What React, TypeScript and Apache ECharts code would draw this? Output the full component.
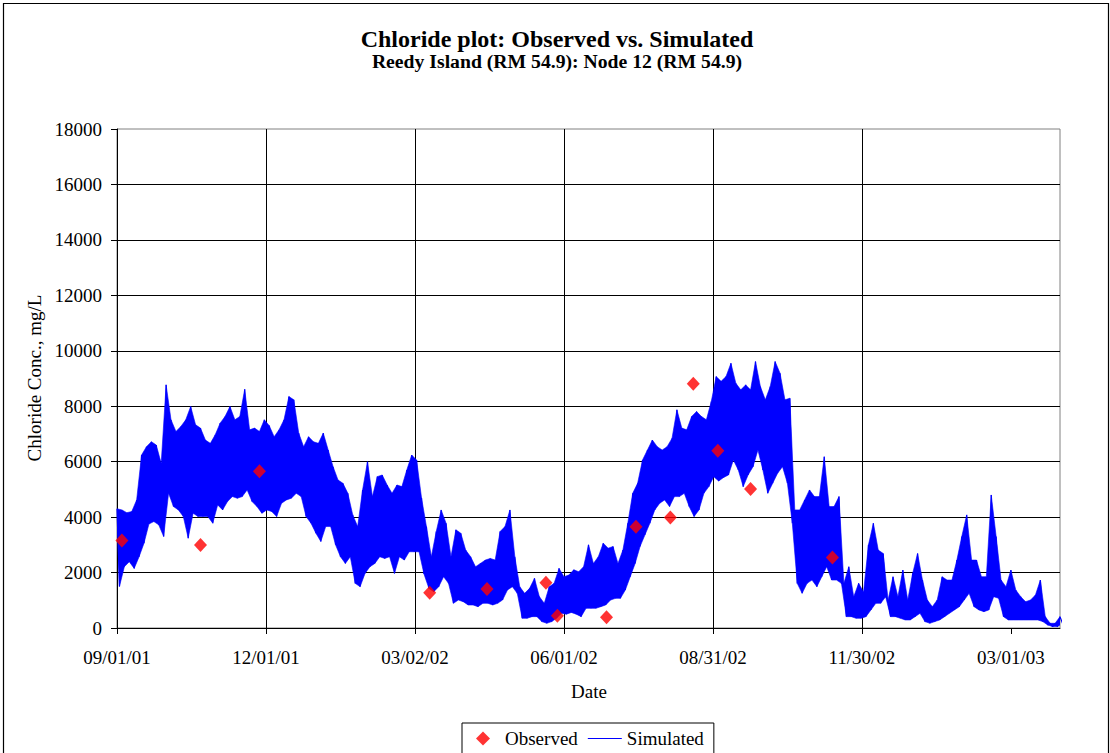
import React, { useEffect, useRef } from "react";
import * as echarts from "echarts";

// ---- Data ----
const START_UTC = Date.UTC(2001, 8, 1); // 09/01/01
const DAY_MS = 86400000;
const X_MAX_DAYS = 576;
const X_TICK_DAYS = 91;
const X_TICK_COUNT = 7;
const Y_MIN = 0;
const Y_MAX = 18000;
const Y_INTERVAL = 2000;

// Simulated chloride, read as tidal high/low envelope every 3 days (mg/L)
const SIM_STEP_DAYS = 3;
const SIM_HIGH = [
  4300, 4260, 4160, 4200, 4620, 6240, 6540, 6720, 6600, 5940,
  8770, 7510, 7090, 7270, 7510, 7990, 7330, 7210, 6780, 6660,
  6970, 7390, 7630, 7990, 7510, 7630, 8610, 7150, 7210, 7090,
  7510, 7300, 6900, 7150, 7510, 8350, 8230, 7030, 6540, 6900,
  6720, 6660, 7030, 6420, 5820, 5340, 5220, 4860, 4080, 3660,
  4980, 6000, 4740, 5460, 5520, 5160, 4860, 5160, 5100, 5700,
  6240, 6060, 4700, 3660, 2570, 3480, 4260, 3780, 2570, 3540,
  3420, 2810, 2570, 2210, 2330, 2450, 2510, 2450, 3480, 3660,
  4260, 2570, 1490, 1250, 1430, 1790, 1130, 890, 1490, 1610,
  2150, 1850, 1910, 2100, 2030, 2210, 3000, 2330, 2570, 3060,
  2880, 2940, 2330, 2810, 3780, 4860, 5220, 6060, 6420, 6780,
  6540, 6420, 6540, 6840, 7870, 7210, 7150, 7630, 7810, 7630,
  7510, 8170, 9070, 8900, 9070, 9550, 8830, 8590, 8770, 8590,
  9610, 8710, 8230, 8710, 9610, 9190, 8230, 8290, 4260, 4260,
  4620, 4980, 4740, 4740, 6180, 4380, 4380, 4740, 1610, 2210,
  1130, 1610, 1300, 3000, 3780, 2810, 2690, 1010, 1850, 1130,
  2090, 1010, 1970, 2690, 1730, 1010, 770, 1010, 1850, 1730,
  1730, 2450, 3300, 4080, 2450, 2450, 1850, 1850, 4800, 3300,
  1730, 1490, 2090, 1370, 1130, 950, 1010, 1190, 1730, 410,
  170, 170, 410,
];
const SIM_LOW = [
  1500, 2210, 2390, 2150, 2570, 3060, 3750, 3840, 3720, 3300,
  4860, 4380, 4260, 4020, 3240, 4140, 4020, 4020, 4020, 3780,
  4440, 4260, 4560, 4740, 4680, 4740, 4980, 4560, 4380, 4140,
  4260, 4200, 4020, 4500, 4620, 4680, 4860, 4740, 4020, 3780,
  3420, 3120, 3660, 3660, 3000, 2570, 2330, 2570, 1610, 1490,
  1970, 2210, 2330, 2570, 2510, 2570, 1970, 2570, 2450, 2750,
  2750, 2750, 1950, 1430, 1310, 1490, 1850, 1610, 890, 1010,
  950, 830, 830, 770, 890, 890, 830, 890, 1010, 1370,
  1490, 1250, 350, 350, 410, 410, 230, 170, 230, 350,
  530, 500, 560, 500, 410, 710, 710, 710, 770, 830,
  1010, 1070, 1070, 1370, 1850, 2330, 2940, 3360, 3780, 4260,
  4500, 4620, 4380, 4740, 4740, 4860, 4380, 4020, 4260, 4860,
  5100, 5460, 5300, 5430, 5520, 6060, 5700, 5100, 5520, 5820,
  6420, 5700, 4860, 5220, 5580, 5820, 5220, 3780, 1610, 1250,
  1610, 1730, 1490, 1850, 2210, 1730, 1730, 1610, 410, 410,
  350, 350, 410, 650, 890, 890, 1130, 410, 410, 350,
  290, 290, 410, 530, 230, 170, 230, 290, 410, 530,
  650, 770, 1010, 1250, 770, 650, 590, 650, 1130, 1070,
  410, 290, 290, 290, 290, 290, 290, 290, 230, 110,
  50, 50, 170,
];

// Observed samples
const OBS_DATES = [
  "2001-09-04", "2001-10-22", "2001-11-27", "2002-03-11", "2002-04-15",
  "2002-05-21", "2002-05-28", "2002-06-27", "2002-07-15", "2002-08-05",
  "2002-08-19", "2002-09-03", "2002-09-23", "2002-11-12",
];
const OBS_VALUES = [
  3160, 2990, 5650, 1270, 1410,
  1630, 440, 390, 3650, 3990,
  8810, 6390, 5010, 2540,
];

const TITLE = "Chloride plot: Observed vs. Simulated";
const SUBTITLE = "Reedy Island (RM 54.9): Node 12 (RM 54.9)";
const Y_NAME = "Chloride Conc., mg/L";
const X_NAME = "Date";

const FONT = '"Liberation Serif", "Times New Roman", serif';
const BLUE = "#0000FF";

function dayOffset(iso: string): number {
  const [y, m, d] = iso.split("-").map(Number);
  return Math.round((Date.UTC(y, m - 1, d) - START_UTC) / DAY_MS);
}
function pad2(n: number): string {
  return n < 10 ? "0" + n : "" + n;
}
function fmtDate(days: number): string {
  const dt = new Date(START_UTC + Math.round(days) * DAY_MS);
  return `${pad2(dt.getUTCMonth() + 1)}/${pad2(dt.getUTCDate())}/${pad2(dt.getUTCFullYear() % 100)}`;
}

export default function App() {
  const ref = useRef<HTMLDivElement>(null);

  useEffect(() => {
    if (!ref.current) return;
    const chart = echarts.init(ref.current, null, { renderer: "svg" });

    // tidal zig-zag: high at sample day, low half a step later
    const simData: number[][] = [];
    SIM_HIGH.forEach((h, i) => {
      simData.push([i * SIM_STEP_DAYS, h]);
      simData.push([i * SIM_STEP_DAYS + SIM_STEP_DAYS / 2, SIM_LOW[i]]);
    });

    const obsData = OBS_DATES.map((d, i) => [dayOffset(d), OBS_VALUES[i]]);
    const xTicks = Array.from({ length: X_TICK_COUNT }, (_, i) => i * X_TICK_DAYS);

    chart.setOption({
      animation: false,
      backgroundColor: "#ffffff",
      textStyle: { fontFamily: FONT },
      grid: {
        left: 117,
        top: 129,
        right: 50,
        bottom: 125,
        show: true,
        borderColor: "#808080",
        borderWidth: 1,
        backgroundColor: "transparent",
      },
      xAxis: {
        type: "value",
        min: 0,
        max: X_MAX_DAYS,
        interval: X_TICK_DAYS,
        axisLine: { show: true, onZero: false, lineStyle: { color: "#000", width: 1 } },
        axisTick: { show: true, inside: false, length: 6, lineStyle: { color: "#000" }, customValues: xTicks },
        axisLabel: {
          margin: 20,
          fontSize: 19,
          color: "#000",
          fontFamily: FONT,
          customValues: xTicks,
          formatter: (v: number) => fmtDate(v),
        },
        splitLine: { show: true, showMaxLine: false, lineStyle: { color: "#000", width: 1 } },
      },
      yAxis: {
        type: "value",
        min: Y_MIN,
        max: Y_MAX,
        interval: Y_INTERVAL,
        axisLine: { show: true, lineStyle: { color: "#000", width: 1 } },
        axisTick: { show: true, inside: false, length: 6, lineStyle: { color: "#000" } },
        axisLabel: {
          margin: 15,
          fontSize: 19,
          color: "#000",
          fontFamily: FONT,
          formatter: (v: number) => String(Math.round(v)),
        },
        splitLine: { show: true, showMaxLine: false, lineStyle: { color: "#000", width: 1 } },
      },
      legend: {
        left: 462,
        top: 723,
        orient: "horizontal",
        borderColor: "#000",
        borderWidth: 1,
        padding: [6, 10, 8, 14],
        itemGap: 10,
        itemWidth: 34,
        itemHeight: 14,
        symbolKeepAspect: true,
        textStyle: { fontSize: 19, color: "#000", fontFamily: FONT },
        data: [
          { name: "Observed", icon: "path://M7,0 L14,7 L7,14 L0,7 Z" },
          { name: "Simulated", icon: "path://M0,0 L34,0 L34,1.2 L0,1.2 Z" },
        ],
      },
      graphic: [
        {
          type: "rect",
          shape: { x: 3.5, y: 3.5, width: 1105, height: 800 },
          style: { fill: "none", stroke: "#000", lineWidth: 1.2 },
          silent: true,
        },
        {
          type: "text",
          x: 557,
          y: 39,
          style: { text: TITLE, align: "center", verticalAlign: "middle", fontSize: 24, fontWeight: "bold", fontFamily: FONT, fill: "#000" },
        },
        {
          type: "text",
          x: 557,
          y: 61,
          style: { text: SUBTITLE, align: "center", verticalAlign: "middle", fontSize: 19.7, fontWeight: "bold", fontFamily: FONT, fill: "#000" },
        },
        {
          type: "text",
          x: 34,
          y: 378,
          rotation: Math.PI / 2,
          style: { text: Y_NAME, align: "center", verticalAlign: "middle", fontSize: 19, fontFamily: FONT, fill: "#000" },
        },
        {
          type: "text",
          x: 589,
          y: 691,
          style: { text: X_NAME, align: "center", verticalAlign: "middle", fontSize: 19, fontFamily: FONT, fill: "#000" },
        },
      ],
      series: [
        {
          // dense tidal trace drawn as the filled high/low envelope
          name: "SimulatedEnvelope",
          type: "custom",
          silent: true,
          clip: true,
          z: 1,
          data: [[0, 0]],
          renderItem: (_params: any, api: any) => {
            const top = SIM_HIGH.map((h, i) => api.coord([i * SIM_STEP_DAYS, h]));
            const bottom = SIM_LOW.map((l, i) => api.coord([i * SIM_STEP_DAYS + SIM_STEP_DAYS / 2, l])).reverse();
            return {
              type: "polygon",
              shape: { points: top.concat(bottom) },
              style: { fill: BLUE, stroke: BLUE, lineWidth: 0.6 },
            };
          },
        },
        {
          name: "Simulated",
          type: "line",
          data: simData,
          symbol: "none",
          showSymbol: false,
          clip: true,
          z: 2,
          color: BLUE,
          lineStyle: { color: BLUE, width: 1.2 },
        },
        {
          name: "Observed",
          type: "scatter",
          data: obsData,
          symbol: "diamond",
          symbolSize: [13, 14],
          z: 5,
          itemStyle: { color: "#FF0000" },
        },
      ],
    });

    return () => chart.dispose();
  }, []);

  return (
    <div
      ref={ref}
      style={{ position: "absolute", left: 0, top: 0, width: 1110, height: 753, background: "#fff" }}
    />
  );
}
